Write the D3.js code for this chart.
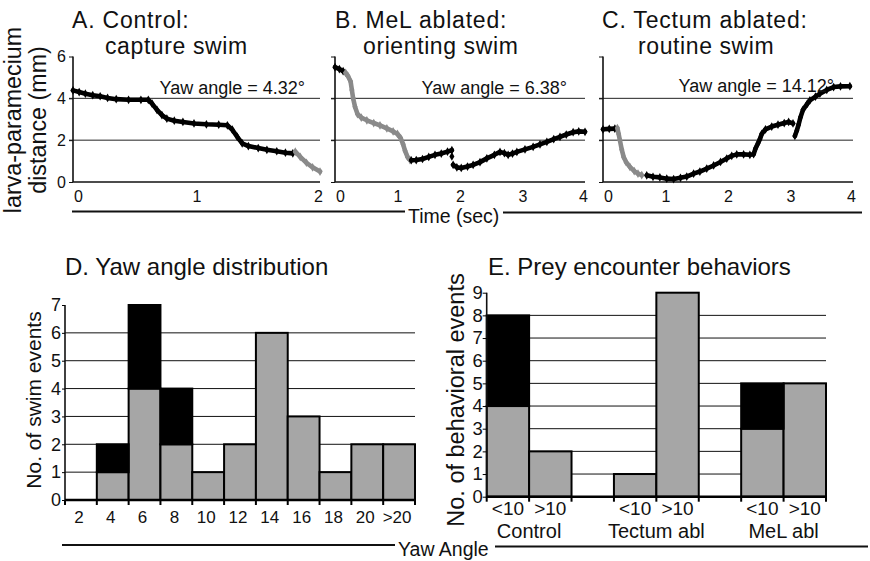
<!DOCTYPE html>
<html><head><meta charset="utf-8">
<script src="https://cdn.jsdelivr.net/npm/d3@7"></script>
<style>
body{margin:0;background:#fff;}
svg{display:block;font-family:"Liberation Sans",Arial,sans-serif;}
</style></head>
<body><svg id="c" width="870" height="561"></svg>
<script>
// ---------- DATA ----------
// Panel A: Control, capture swim
const aTime  = [0,0.05,0.1,0.16,0.22,0.28,0.35,0.45,0.55,0.61,0.64,0.68,0.72,0.76,0.82,0.89,0.98,1.08,1.18,1.25,1.29,1.33,1.37,1.42,1.5,1.57,1.65,1.72,1.78, 1.8,1.84,1.89,1.94,2.0];
const aDist  = [4.38,4.3,4.22,4.15,4.1,4.02,3.96,3.93,3.93,3.93,3.75,3.45,3.2,3.03,2.93,2.87,2.8,2.76,2.74,2.71,2.5,2.16,1.85,1.72,1.62,1.54,1.47,1.4,1.37, 1.45,1.2,0.92,0.7,0.5];
const aPhase = ["t","t","t","t","t","t","t","t","t","t","t","t","t","t","t","t","t","t","t","t","t","t","t","t","t","t","t","t","t", "s","s","s","s","s"];

// Panel B: MeL ablated, orienting swim
const bTime  = [0,0.07,0.13, 0.17,0.21,0.25,0.27,0.29,0.32,0.36,0.42,0.51,0.62,0.72,0.83,0.93,1.0,1.05,1.09,1.12,1.16,1.2,
  1.22,1.3,1.4,1.5,1.6,1.7,1.8,1.87, null, 1.87, null,
  1.89,1.95,2.02,2.12,2.21,2.32,2.43,2.55,2.64,2.71,2.77,2.84,2.91,3.04,3.17,3.28,3.39,3.5,3.6,3.7,3.81,3.9,4.0];
const bDist  = [5.49,5.4,5.3, 5.22,5.05,4.8,4.4,4.0,3.6,3.25,3.08,2.95,2.82,2.71,2.56,2.42,2.3,2.1,1.8,1.5,1.2,1.05,
  1.04,1.05,1.1,1.2,1.3,1.36,1.45,1.52, null, 1.22, null,
  0.82,0.7,0.67,0.74,0.82,0.95,1.13,1.3,1.44,1.38,1.3,1.36,1.44,1.56,1.68,1.8,1.92,2.05,2.16,2.27,2.38,2.42,2.4];
const bPhase = ["t","t","t", "s","s","s","s","s","s","s","s","s","s","s","s","s","s","s","s","s","s","s",
  "t","t","t","t","t","t","t","t", "t", "t", "t",
  "t","t","t","t","t","t","t","t","t","t","t","t","t","t","t","t","t","t","t","t","t","t","t"];

// Panel C: Tectum ablated, routine swim
const cTime  = [0,0.1,0.19, 0.23,0.25,0.27,0.3,0.33,0.37,0.43,0.5,0.56,0.62,
  0.7,0.8,0.91,1.02,1.13,1.24,1.34,1.45,1.55,1.66,1.77,1.88,1.98,2.06,2.14,2.25,2.35,2.41,2.44,2.48,2.51,2.54,2.6,2.7,2.8,2.9,2.97,3.04, null,
  3.07,3.1,3.13,3.16,3.2,3.27,3.31,3.4,3.47,3.58,3.69,3.8,3.95];
const cDist  = [2.52,2.54,2.55, 2.58,2.3,2.0,1.55,1.2,0.95,0.72,0.52,0.4,0.33,
  0.32,0.25,0.22,0.16,0.14,0.2,0.26,0.4,0.5,0.64,0.79,0.96,1.12,1.25,1.32,1.32,1.3,1.33,1.6,1.85,2.05,2.3,2.52,2.65,2.74,2.82,2.87,2.8, null,
  2.2,2.45,2.75,3.1,3.45,3.75,3.9,4.08,4.22,4.4,4.54,4.57,4.58];
const cPhase = ["t","t","t", "s","s","s","s","s","s","s","s","s","s",
  "t","t","t","t","t","t","t","t","t","t","t","t","t","t","t","t","t","t","t","t","t","t","t","t","t","t","t","t","t",
  "t","t","t","t","t","t","t","t","t","t","t","t","t"];

const yawA = "Yaw angle = 4.32°", yawB = "Yaw angle = 6.38°", yawC = "Yaw angle = 14.12°";
const distTicks = [0,2,4,6];
const distGrid = [2,4];

// Panel D: yaw angle distribution
const yawBins   = ["2","4","6","8","10","12","14","16","18","20",">20"];
const yawGray   = [0,1,4,2,1,2,6,3,1,2,2];
const yawBlack  = [0,1,3,2,0,0,0,0,0,0,0];
const yawTicks  = [0,1,2,3,4,5,6,7];

// Panel E: prey encounter behaviors
const groups    = ["Control","Tectum abl","MeL abl"];
const subCats   = ["<10",">10"];
const encGray   = [[4,2],[1,9],[3,5]];
const encBlack  = [[4,0],[0,0],[2,0]];
const encTicks  = [0,1,2,3,4,5,6,7,8,9];

// ---------- DRAW ----------
const svg = d3.select("#c");
const BLACK = "#000", TRACEGRAY = "#8a8a8a", BARGRAY = "#a6a6a6";

function txt(x,y,s,size,anchor){
  return svg.append("text").attr("x",x).attr("y",y).attr("font-size",size)
    .attr("text-anchor",anchor||"start").attr("fill","#111").text(s);
}

function tracePanel(o, times, dists, phases){
  const x = d3.scaleLinear().domain([0,o.tMax]).range([o.x0,o.x1]);
  const y = d3.scaleLinear().domain([0,6]).range([182,56.5]);
  const g = svg.append("g");
  g.selectAll(".grid").data(distGrid).join("line")
    .attr("x1",o.x0-4).attr("x2",o.x1).attr("y1",d=>y(d)).attr("y2",d=>y(d))
    .attr("stroke","#222").attr("stroke-width",1);
  const ya = d3.axisLeft(y).tickValues(distTicks).tickSize(4).tickFormat(o.yLabels? d3.format("d") : "");
  const yg = g.append("g").attr("transform",`translate(${o.x0},0)`).call(ya);
  yg.select(".domain").attr("d",`M0,${y(6)}V${y(0)}`).attr("stroke","#111").attr("stroke-width",1.6);
  yg.selectAll(".tick line").attr("stroke","#111");
  yg.selectAll(".tick text").attr("font-size",16).attr("font-family","Liberation Sans, Arial").attr("fill","#111").attr("x",-7);
  const xa = d3.axisBottom(x).tickValues(d3.range(0,o.tMax+0.001,1)).tickSize(0).tickPadding(9).tickFormat(d3.format("d"));
  const xg = g.append("g").attr("transform",`translate(0,${y(0)})`).call(xa);
  xg.select(".domain").attr("d",`M${o.x0},0H${o.x1}`).attr("stroke","#111").attr("stroke-width",1.6);
  xg.selectAll(".tick text").attr("font-size",16).attr("font-family","Liberation Sans, Arial").attr("fill","#111")
    .attr("dx",d=>d===0?5:(d===o.tMax?-2:0));
  const segs=[]; let cur=null;
  times.forEach((t,i)=>{
    const d=dists[i];
    if(t===null||d===null){cur=null;return;}
    if(!cur||cur.phase!==phases[i]){cur={phase:phases[i],pts:[]};segs.push(cur);}
    cur.pts.push([t,d]);
  });
  const line = d3.line().x(p=>x(p[0])).y(p=>y(p[1]));
  segs.forEach(s=>{
    const col = s.phase==="s"?TRACEGRAY:BLACK;
    if(s.pts.length>1){
      g.append("path").attr("d",line(s.pts)).attr("fill","none").attr("stroke",col)
        .attr("stroke-width",4.6).attr("stroke-linejoin","round").attr("stroke-linecap","round");
    }
    g.selectAll(null).data(s.pts).join("path")
      .attr("d",d3.symbol(d3.symbolDiamond,22))
      .attr("transform",p=>`translate(${x(p[0])},${y(p[1])})`).attr("fill",col);
  });
  txt(o.yawX,o.yawY||94,o.yaw,18,"end");
}

tracePanel({x0:73,x1:320,tMax:2,yLabels:true,yawX:305,yaw:yawA}, aTime,aDist,aPhase);
tracePanel({x0:335,x1:585,tMax:4,yLabels:false,yawX:567,yaw:yawB}, bTime,bDist,bPhase);
tracePanel({x0:603,x1:853,tMax:4,yLabels:false,yawX:834,yawY:92,yaw:yawC}, cTime,cDist,cPhase);

// titles A-C (two lines each)
function title(x1,s1,x2,s2){
  txt(x1,28,s1,23).attr("letter-spacing",0.8);
  txt(x2,53.5,s2,23).attr("letter-spacing",0.6);
}
title(72,"A. Control:",105,"capture swim");
title(335,"B. MeL ablated:",363,"orienting swim");
title(602,"C. Tectum ablated:",638,"routine swim");

// y label A
svg.append("text").attr("transform","translate(21,120) rotate(-90)").attr("text-anchor","middle")
  .attr("font-size",23.3).attr("fill","#111").text("larva-paramecium");
svg.append("text").attr("transform","translate(46,120) rotate(-90)").attr("text-anchor","middle")
  .attr("font-size",23.3).attr("fill","#111").text("distance (mm)");

// Time axis label with lines
svg.append("line").attr("x1",72).attr("x2",405).attr("y1",211.5).attr("y2",211.5).attr("stroke","#111").attr("stroke-width",2);
svg.append("line").attr("x1",503).attr("x2",862).attr("y1",212.5).attr("y2",212.5).attr("stroke","#111").attr("stroke-width",2);
txt(408,223,"Time (sec)",19.5);

// ---------- Panel D ----------
(function(){
  const x = d3.scaleBand().domain(yawBins).range([65,415]).padding(0);
  const y = d3.scaleLinear().domain([0,7]).range([500,305]);
  const g = svg.append("g");
  g.selectAll(".grid").data(d3.range(1,7)).join("line")
    .attr("x1",65).attr("x2",415).attr("y1",d=>y(d)).attr("y2",d=>y(d)).attr("stroke","#111").attr("stroke-width",1);
  const bars = yawBins.map((b,i)=>({b,gv:yawGray[i],bv:yawBlack[i]})).filter(d=>d.gv+d.bv>0);
  g.selectAll(".gb").data(bars).join("rect")
    .attr("x",d=>x(d.b)).attr("width",x.bandwidth()).attr("y",d=>y(d.gv)).attr("height",d=>y(0)-y(d.gv))
    .attr("fill",BARGRAY).attr("stroke","#000").attr("stroke-width",2);
  g.selectAll(".bb").data(bars.filter(d=>d.bv>0)).join("rect")
    .attr("x",d=>x(d.b)).attr("width",x.bandwidth()).attr("y",d=>y(d.gv+d.bv)).attr("height",d=>y(d.gv)-y(d.gv+d.bv))
    .attr("fill","#000").attr("stroke","#000").attr("stroke-width",2);
  const ya = d3.axisLeft(y).tickValues(yawTicks).tickSize(3).tickFormat(d3.format("d"));
  const yg = g.append("g").attr("transform","translate(65,0)").call(ya);
  yg.select(".domain").attr("d",`M0,${y(7)}V${y(0)}`).attr("stroke","#111").attr("stroke-width",1.6);
  yg.selectAll(".tick text").attr("font-size",18).attr("font-family","Liberation Sans, Arial").attr("fill","#111").attr("x",-4);
  g.append("line").attr("x1",65).attr("x2",416).attr("y1",y(0)).attr("y2",y(0)).attr("stroke","#000").attr("stroke-width",2.5);
  const edges = yawBins.map(b=>x(b)).concat([x(yawBins[yawBins.length-1])+x.bandwidth()]);
  g.selectAll(".et").data(edges).join("line").attr("x1",d=>d).attr("x2",d=>d).attr("y1",y(0)).attr("y2",y(0)+5)
    .attr("stroke","#000").attr("stroke-width",2);
  g.selectAll(".xl").data(yawBins).join("text").attr("x",d=>x(d)+x.bandwidth()/2-2).attr("y",523)
    .attr("text-anchor","middle").attr("font-size",17).attr("fill","#111").text(d=>d);
  txt(65,275,"D.  Yaw angle distribution",24);
  svg.append("text").attr("transform","translate(41,400) rotate(-90)").attr("text-anchor","middle")
    .attr("font-size",21).attr("fill","#111").text("No. of swim events");
})();

// ---------- Panel E ----------
(function(){
  const gx = d3.scaleBand().domain(groups).range([486.7,826]).paddingInner(1/3).paddingOuter(0);
  const sx = d3.scaleBand().domain(subCats).range([0,gx.bandwidth()]).padding(0);
  const y = d3.scaleLinear().domain([0,9]).range([496.7,292.7]);
  const g = svg.append("g");
  g.selectAll(".grid").data(d3.range(1,9)).join("line")
    .attr("x1",486.7).attr("x2",826).attr("y1",d=>y(d)).attr("y2",d=>y(d)).attr("stroke","#111").attr("stroke-width",1);
  const bars=[];
  groups.forEach((gr,i)=>subCats.forEach((s,j)=>bars.push({gr,s,gv:encGray[i][j],bv:encBlack[i][j]})));
  g.selectAll(".gb").data(bars).join("rect")
    .attr("x",d=>gx(d.gr)+sx(d.s)).attr("width",sx.bandwidth()).attr("y",d=>y(d.gv)).attr("height",d=>y(0)-y(d.gv))
    .attr("fill",BARGRAY).attr("stroke","#000").attr("stroke-width",2);
  g.selectAll(".bb").data(bars.filter(d=>d.bv>0)).join("rect")
    .attr("x",d=>gx(d.gr)+sx(d.s)).attr("width",sx.bandwidth()).attr("y",d=>y(d.gv+d.bv)).attr("height",d=>y(d.gv)-y(d.gv+d.bv))
    .attr("fill","#000").attr("stroke","#000").attr("stroke-width",2);
  const ya = d3.axisLeft(y).tickValues(encTicks).tickSize(4).tickFormat(d3.format("d"));
  const yg = g.append("g").attr("transform","translate(486.7,0)").call(ya);
  yg.select(".domain").attr("d",`M0,${y(9)}V${y(0)}`).attr("stroke","#111").attr("stroke-width",1.6);
  yg.selectAll(".tick text").attr("font-size",18.5).attr("font-family","Liberation Sans, Arial").attr("fill","#111").attr("x",-4);
  g.append("line").attr("x1",486.7).attr("x2",826).attr("y1",y(0)).attr("y2",y(0)).attr("stroke","#000").attr("stroke-width",2.5);
  const edges=[];
  groups.forEach(gr=>{edges.push(gx(gr));edges.push(gx(gr)+sx.bandwidth());edges.push(gx(gr)+gx.bandwidth());});
  g.selectAll(".et").data(edges).join("line").attr("x1",d=>d).attr("x2",d=>d).attr("y1",y(0)).attr("y2",y(0)+5)
    .attr("stroke","#000").attr("stroke-width",2);
  g.selectAll(".xl").data(bars).join("text").attr("x",d=>gx(d.gr)+sx(d.s)+sx.bandwidth()/2).attr("y",515)
    .attr("text-anchor","middle").attr("font-size",19).attr("fill","#111").text(d=>d.s);
  g.selectAll(".gl").data(groups).join("text").attr("x",d=>gx(d)+gx.bandwidth()/2).attr("y",538)
    .attr("text-anchor","middle").attr("font-size",20).attr("fill","#111").text(d=>d);
  txt(488,275,"E. Prey encounter behaviors",24);
  svg.append("text").attr("transform","translate(464,400) rotate(-90)").attr("text-anchor","middle")
    .attr("font-size",23.5).attr("fill","#111").text("No. of behavioral events");
})();

// Yaw Angle axis label with lines
svg.append("line").attr("x1",62).attr("x2",395).attr("y1",545).attr("y2",545).attr("stroke","#111").attr("stroke-width",2);
svg.append("line").attr("x1",495).attr("x2",868).attr("y1",546.5).attr("y2",546.5).attr("stroke","#111").attr("stroke-width",2);
txt(398,556,"Yaw Angle",19.5);
</script></body></html>
